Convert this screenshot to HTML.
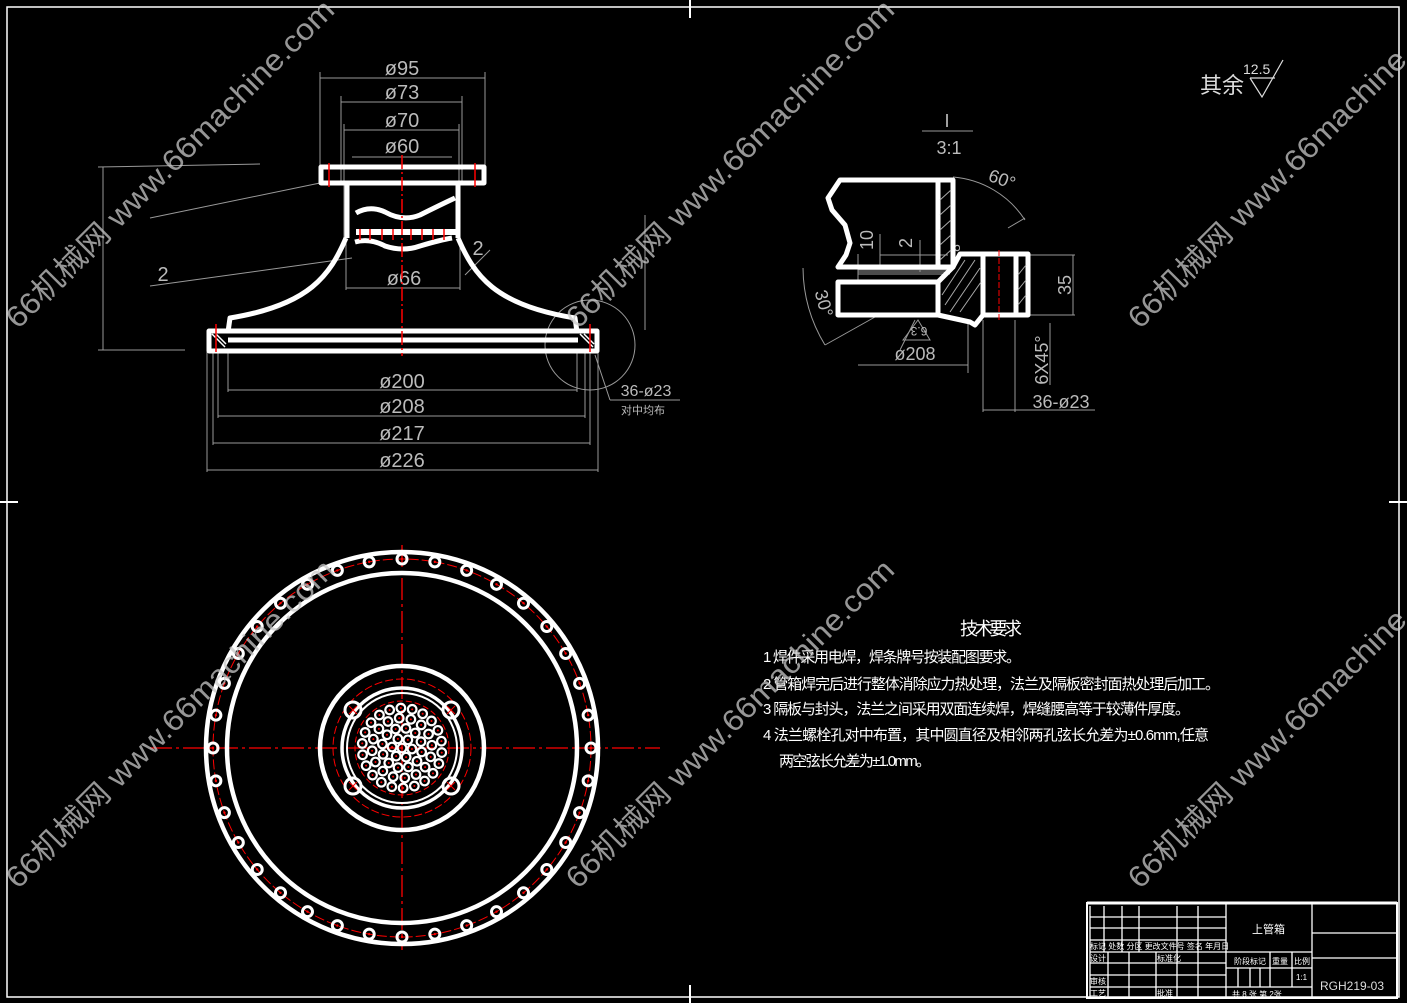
<!DOCTYPE html>
<html><head><meta charset="utf-8"><style>
html,body{margin:0;padding:0;background:#000;}
svg{display:block;}
text{font-family:"Liberation Sans","Noto Sans CJK SC",sans-serif;}
.d{fill:#bbb;font-size:20px;}
.w{fill:#fff;}
</style></head><body>
<svg id="s" width="1407" height="1003" viewBox="0 0 1407 1003" xmlns="http://www.w3.org/2000/svg">
<rect width="1407" height="1003" fill="#000"/>
<!-- border -->
<rect x="7" y="7" width="1392" height="990" fill="none" stroke="#fff" stroke-width="1.5"/>
<g stroke="#fff" stroke-width="2">
<line x1="690" y1="0" x2="690" y2="18"/><line x1="690" y1="985" x2="690" y2="1003"/>
<line x1="0" y1="502" x2="18" y2="502"/><line x1="1389" y1="502" x2="1407" y2="502"/>
</g>

<!-- ===== Front view ===== -->
<g stroke="#999" stroke-width="1" fill="none">
<line x1="320" y1="78" x2="485" y2="78"/><line x1="320" y1="72" x2="320" y2="165"/><line x1="485" y1="72" x2="485" y2="165"/>
<line x1="341" y1="102" x2="462" y2="102"/><line x1="341" y1="96" x2="341" y2="185"/><line x1="462" y1="96" x2="462" y2="185"/>
<line x1="344" y1="130" x2="459" y2="130"/><line x1="344" y1="124" x2="344" y2="240"/><line x1="459" y1="124" x2="459" y2="240"/>
<line x1="352" y1="157" x2="452" y2="157"/>
<line x1="346" y1="288" x2="460" y2="288"/><line x1="346" y1="240" x2="346" y2="290"/><line x1="460" y1="240" x2="460" y2="290"/>
<line x1="228" y1="390" x2="577" y2="390"/><line x1="228" y1="352" x2="228" y2="392"/><line x1="577" y1="352" x2="577" y2="392"/>
<line x1="218" y1="416" x2="585" y2="416"/><line x1="218" y1="352" x2="218" y2="418"/><line x1="585" y1="352" x2="585" y2="418"/>
<line x1="213" y1="443" x2="590" y2="443"/><line x1="213" y1="352" x2="213" y2="445"/><line x1="590" y1="352" x2="590" y2="445"/>
<line x1="207" y1="470" x2="598" y2="470"/><line x1="207" y1="352" x2="207" y2="472"/><line x1="598" y1="352" x2="598" y2="472"/>
<line x1="103" y1="167" x2="103" y2="350"/><line x1="98" y1="167" x2="260" y2="164"/><line x1="98" y1="350" x2="185" y2="350"/>
<line x1="150" y1="218" x2="320" y2="183"/>
<line x1="150" y1="286" x2="352" y2="258"/>
<line x1="645" y1="215" x2="645" y2="330"/>
<circle cx="590" cy="345" r="45"/>
<line x1="595" y1="355" x2="610" y2="400"/><line x1="610" y1="400" x2="680" y2="400"/>
<line x1="465" y1="275" x2="490" y2="250"/>
</g>
<g class="d" text-anchor="middle">
<text x="402" y="75">ø95</text><text x="402" y="99">ø73</text><text x="402" y="127">ø70</text><text x="402" y="153">ø60</text>
<text x="404" y="285">ø66</text>
<text x="402" y="388">ø200</text><text x="402" y="413">ø208</text><text x="402" y="440">ø217</text><text x="402" y="467">ø226</text>
<text x="163" y="281">2</text><text x="478" y="255">2</text>
<text x="646" y="396" style="font-size:16px">36-ø23</text>
<text x="643" y="414" style="font-size:11px">对中均布</text>
</g>
<g fill="none" stroke="#fff" stroke-width="5" stroke-linejoin="round">
<rect x="321" y="167" width="163" height="16"/>
<path d="M347 183 L347 238 M458 183 L458 238"/>
<path d="M356 213 Q370 205 385 212 Q403 222 420 215 Q440 205 455 198"/>
<path d="M356 232 L456 232" stroke-width="6"/>
<path d="M355 242 Q370 238 385 246 Q403 252 420 246 Q440 240 452 238"/>
<path d="M346 238 C 330 275 310 305 230 318 L228 332"/>
<path d="M458 238 C 474 275 494 305 575 318 L577 332"/>
<rect x="209" y="331" width="388" height="20"/>
<line x1="228" y1="340" x2="578" y2="340" stroke-width="5"/>
</g>
<g fill="none" stroke="#fff" stroke-width="1.5">
<path d="M212 334 L225 347 M216 334 L226 344 M580 334 L593 347 M584 334 L594 344"/>
</g>
<g stroke="#f00" stroke-width="1.5" stroke-dasharray="14,3,2,3">
<line x1="402" y1="155" x2="402" y2="356"/>
</g>
<g stroke="#f00" stroke-width="1.5">
<line x1="329" y1="163" x2="329" y2="187"/><line x1="475" y1="163" x2="475" y2="187"/>
<line x1="216" y1="324" x2="216" y2="352"/><line x1="590" y1="324" x2="590" y2="352"/>
<line x1="360" y1="229" x2="360" y2="240"/><line x1="370" y1="229" x2="370" y2="240"/><line x1="382" y1="229" x2="382" y2="240"/><line x1="393" y1="229" x2="393" y2="240"/><line x1="411" y1="229" x2="411" y2="240"/><line x1="422" y1="229" x2="422" y2="240"/><line x1="433" y1="229" x2="433" y2="240"/><line x1="444" y1="229" x2="444" y2="240"/>
</g>

<!-- ===== Detail I ===== -->
<g stroke="#999" stroke-width="1" fill="none">
<line x1="922" y1="131" x2="973" y2="131"/>
<path d="M953 177 A95 95 0 0 1 1025 220"/><line x1="1008" y1="228" x2="1025" y2="218"/>
<path d="M803 268 A 150 150 0 0 0 825 345"/><line x1="825" y1="345" x2="875" y2="317"/>
<line x1="858" y1="254" x2="858" y2="270"/><line x1="880" y1="234" x2="880" y2="270"/><line x1="920" y1="240" x2="920" y2="272"/>
<line x1="880" y1="255" x2="948" y2="255"/>
<line x1="858" y1="270" x2="950" y2="270"/>
<line x1="858" y1="272" x2="950" y2="272"/>
<line x1="858" y1="274" x2="950" y2="274"/>
<line x1="858" y1="272" x2="858" y2="270"/>
<line x1="858" y1="284" x2="858" y2="270"/>
<line x1="1028" y1="255" x2="1075" y2="255"/><line x1="1028" y1="315" x2="1075" y2="315"/><line x1="1073" y1="255" x2="1073" y2="315"/>
<line x1="858" y1="365" x2="968" y2="365"/><line x1="968" y1="320" x2="968" y2="373"/>
<line x1="983" y1="320" x2="983" y2="412"/><line x1="1015" y1="320" x2="1015" y2="412"/>
<line x1="983" y1="410" x2="1095" y2="410"/>
<line x1="1050" y1="323" x2="1050" y2="385"/>
<path d="M903 340 L918 320 L930 340 Z"/>
<path d="M900 350 L915 320"/>
</g>
<g class="d" text-anchor="middle" style="font-size:18px">
<text x="947" y="127">I</text><text x="949" y="154">3:1</text>
<text x="1000" y="185" transform="rotate(20 1000 185)">60°</text>
<text x="915" y="360">ø208</text>
<text x="1061" y="408">36-ø23</text>
<text x="818" y="305" transform="rotate(75 818 305)">30°</text>
<text x="1071" y="285" transform="rotate(-90 1071 285)">35</text>
<text x="1048" y="360" transform="rotate(-90 1048 360)">6X45°</text>
<text x="873" y="240" transform="rotate(-90 873 240)">10</text>
<text x="912" y="243" transform="rotate(-90 912 243)">2</text>
<text x="960" y="248" transform="rotate(-90 960 248)" style="font-size:14px">8</text>
<text x="919" y="337" transform="rotate(180 919 332)" style="font-size:12px">6.3</text>
</g>
<g fill="none" stroke="#fff" stroke-width="5" stroke-linejoin="round">
<path d="M953 180 L840 180 L828 198 L832 210 L845 225 L850 243 L846 255 L838 267 L953 267 Z"/>
<line x1="938" y1="180" x2="938" y2="267"/>
<rect x="838" y="282" width="100" height="33"/>
<path d="M938 282 L948 272 L953 267 L960 254 L1028 254 L1028 315 L983 315 L975 325 L970 322 L938 315"/>
<line x1="983" y1="254" x2="983" y2="315"/><line x1="1016" y1="254" x2="1016" y2="315"/>
</g>
<g stroke="#aaa" stroke-width="1">
<line x1="940" y1="200" x2="951" y2="190"/><line x1="940" y1="215" x2="951" y2="205"/><line x1="940" y1="230" x2="951" y2="220"/><line x1="940" y1="245" x2="951" y2="235"/><line x1="940" y1="260" x2="951" y2="250"/>
<line x1="945" y1="305" x2="975" y2="260"/><line x1="950" y1="312" x2="980" y2="268"/><line x1="960" y1="312" x2="981" y2="282"/><line x1="942" y1="295" x2="965" y2="260"/>
<line x1="1018" y1="275" x2="1026" y2="265"/><line x1="1018" y1="290" x2="1026" y2="280"/><line x1="1018" y1="305" x2="1026" y2="295"/>
</g>
<line x1="999" y1="250" x2="999" y2="320" stroke="#f00" stroke-width="1" stroke-dasharray="6,2"/>

<!-- roughness -->
<text x="1200" y="93" class="w" style="font-size:22px;fill:#ddd">其余</text>
<text x="1243" y="74" style="font-size:14px;fill:#ddd">12.5</text>
<path d="M1250 78 L1262 97 L1283 60" fill="none" stroke="#ddd" stroke-width="1.2"/>
<line x1="1250" y1="78" x2="1275" y2="78" stroke="#ddd" stroke-width="1.2"/>

<!-- ===== Top view (circle) ===== -->
<g id="circ" fill="none">
<line x1="150" y1="748" x2="660" y2="748" stroke="#f00" stroke-width="1.3" stroke-dasharray="22,4,3,4"/>
<line x1="402" y1="545" x2="402" y2="950" stroke="#f00" stroke-width="1.3" stroke-dasharray="22,4,3,4"/>
<circle cx="402" cy="748" r="196" stroke="#fff" stroke-width="4.5"/>
<circle cx="402" cy="748" r="175" stroke="#fff" stroke-width="4.5"/>
<circle cx="402" cy="748" r="189" stroke="#f00" stroke-width="1" stroke-dasharray="10,3"/>
<circle cx="402" cy="748" r="82" stroke="#fff" stroke-width="4.5"/>
<circle cx="402" cy="748" r="69" stroke="#f00" stroke-width="1" stroke-dasharray="8,3"/>
<circle cx="402" cy="748" r="60" stroke="#fff" stroke-width="3.5"/>
<circle cx="402" cy="748" r="55" stroke="#fff" stroke-width="2"/>
<circle cx="402" cy="748" r="47" stroke="#f00" stroke-width="1" stroke-dasharray="6,3"/>
</g>

<!-- ===== Tech requirements ===== -->
<g class="w" style="font-family:'Liberation Serif','Noto Serif CJK SC',serif">
<text x="960" y="635" style="font-size:18px" textLength="62">技术要求</text>
<text x="763" y="662" style="font-size:15px" textLength="258">1 焊件采用电焊，焊条牌号按装配图要求。</text>
<text x="763" y="689" style="font-size:15px" textLength="457">2 管箱焊完后进行整体消除应力热处理，法兰及隔板密封面热处理后加工。</text>
<text x="763" y="714" style="font-size:15px" textLength="427">3 隔板与封头，法兰之间采用双面连续焊，焊缝腰高等于较薄件厚度。</text>
<text x="763" y="740" style="font-size:15px" textLength="446">4 法兰螺栓孔对中布置，其中圆直径及相邻两孔弦长允差为±0.6mm,任意</text>
<text x="779" y="766" style="font-size:15px" textLength="152">两空弦长允差为±1.0mm。</text>
</g>

<!-- ===== Title block ===== -->
<g stroke="#fff" fill="none" stroke-width="1.3">
<rect x="1087" y="903" width="310" height="95" stroke-width="2"/>
<line x1="1087" y1="903" x2="1397" y2="903" stroke-width="3"/>
<line x1="1226" y1="903" x2="1226" y2="998"/><line x1="1312" y1="903" x2="1312" y2="998"/>
<line x1="1090" y1="906" x2="1090" y2="998"/>
<line x1="1090" y1="917" x2="1226" y2="917"/><line x1="1090" y1="928" x2="1226" y2="928"/><line x1="1090" y1="940" x2="1226" y2="940"/><line x1="1090" y1="952" x2="1226" y2="952"/><line x1="1090" y1="963" x2="1226" y2="963"/><line x1="1090" y1="975" x2="1226" y2="975"/><line x1="1090" y1="987" x2="1226" y2="987"/>
<line x1="1104" y1="906" x2="1104" y2="952"/><line x1="1122" y1="906" x2="1122" y2="952"/><line x1="1139" y1="906" x2="1139" y2="952"/><line x1="1177" y1="906" x2="1177" y2="998"/><line x1="1198" y1="906" x2="1198" y2="998"/>
<line x1="1108" y1="952" x2="1108" y2="998"/><line x1="1129" y1="952" x2="1129" y2="998"/><line x1="1156" y1="952" x2="1156" y2="998"/>
<line x1="1226" y1="952" x2="1312" y2="952"/><line x1="1226" y1="968" x2="1312" y2="968"/><line x1="1226" y1="987" x2="1312" y2="987"/>
<line x1="1270" y1="952" x2="1270" y2="987"/><line x1="1292" y1="952" x2="1292" y2="987"/>
<line x1="1238" y1="968" x2="1238" y2="987"/><line x1="1250" y1="968" x2="1250" y2="987"/><line x1="1260" y1="968" x2="1260" y2="987"/>
<line x1="1312" y1="933" x2="1397" y2="933"/><line x1="1312" y1="958" x2="1397" y2="958"/>
</g>
<g class="w" style="font-size:8px">
<text x="1090" y="949">标记 处数 分区 更改文件号 签名 年月日</text>
<text x="1090" y="961">设计</text><text x="1157" y="961">标准化</text>
<text x="1090" y="984">审核</text><text x="1090" y="996">工艺</text><text x="1157" y="996">批准</text>
<text x="1234" y="964">阶段标记</text><text x="1272" y="964">重量</text><text x="1294" y="964">比例</text>
<text x="1296" y="980">1:1</text>
<text x="1232" y="997">共 8 张 第 2张</text>
<text x="1252" y="933" style="font-size:11px">上管箱</text>
<text x="1320" y="990" style="font-size:12px;fill:#ddd">RGH219-03</text>
</g>

<!-- watermarks -->
<g id="wm" style="fill:rgba(200,200,200,0.75);font-size:30px"></g>
</svg>
<script>
var NS="http://www.w3.org/2000/svg",s=document.getElementById('s'),c=document.getElementById('circ');
function el(t,a,p){var e=document.createElementNS(NS,t);for(var k in a)e.setAttribute(k,a[k]);(p||s).appendChild(e);return e;}
var cx=402,cy=748;
for(var i=0;i<36;i++){var a=i*Math.PI*2/36,x=cx+189*Math.cos(a),y=cy+189*Math.sin(a);
el('circle',{cx:x,cy:y,r:5,fill:'none',stroke:'#fff','stroke-width':3},c);
el('circle',{cx:x,cy:y,r:1.2,fill:'#f00'},c);}
[[-49,-38],[49,-38],[-49,38],[49,38]].forEach(function(p){
el('circle',{cx:cx+p[0],cy:cy+p[1],r:8,fill:'none',stroke:'#fff','stroke-width':3},c);
el('path',{d:'M'+(cx+p[0]-4)+' '+(cy+p[1]-4)+'l8 8m0 -8l-8 8',stroke:'#f00','stroke-width':1},c);});
var rings=[[0,1],[10,6],[20,12],[30,16],[40,22]];
rings.forEach(function(r){for(var j=0;j<r[1];j++){var a=j*Math.PI*2/r[1]+r[0]*0.01,x=cx+r[0]*Math.cos(a),y=cy+r[0]*Math.sin(a);
el('circle',{cx:x,cy:y,r:4.3,fill:'none',stroke:'#fff','stroke-width':2.2},c);
el('circle',{cx:x,cy:y,r:1,fill:'#f00'},c);}});
var wm=document.getElementById('wm');
[[18,330],[578,330],[1140,330],[18,890],[578,890],[1140,890]].forEach(function(p){
var t=el('text',{x:p[0],y:p[1],transform:'rotate(-45 '+p[0]+' '+p[1]+')',textLength:450,lengthAdjust:'spacingAndGlyphs'},wm);
t.textContent='66机械网 www.66machine.com';});
</script>
</body></html>
